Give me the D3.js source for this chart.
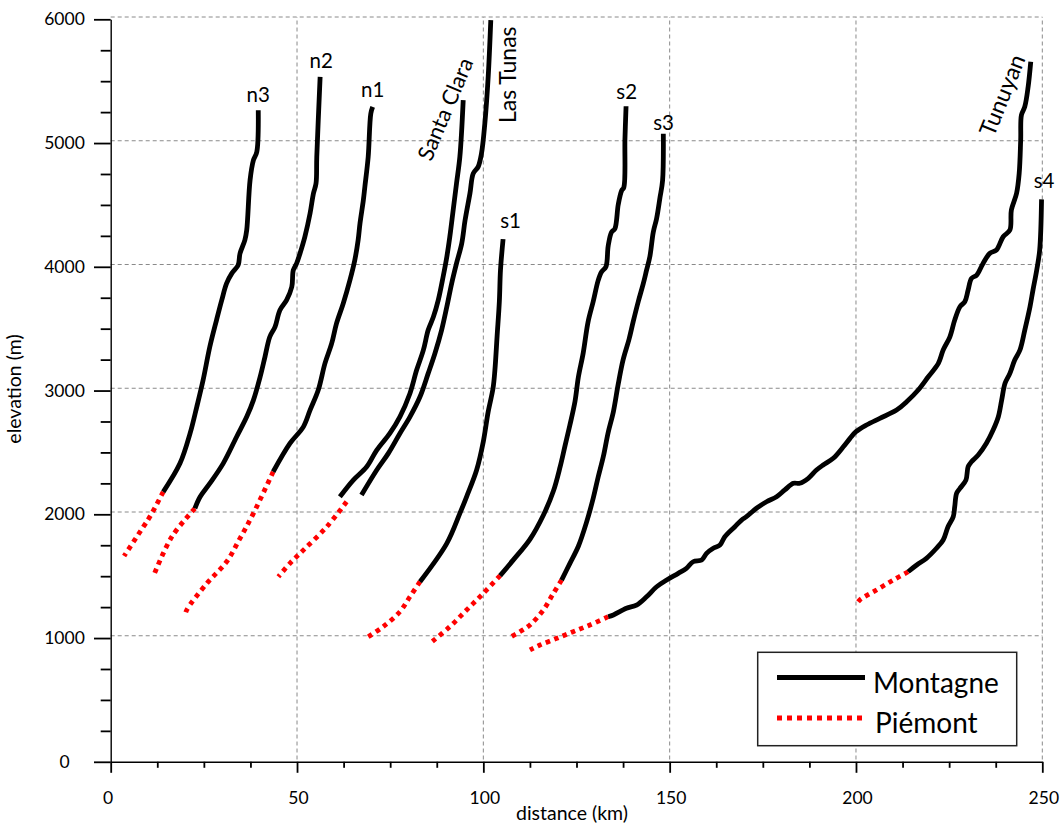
<!DOCTYPE html>
<html><head><meta charset="utf-8">
<script src="https://cdn.jsdelivr.net/npm/d3@7"></script>
<style>
body{margin:0;background:#fff}
text{font-family:Lato,"Open Sans",sans-serif;fill:#000}
</style>
</head><body>
<svg id="chart" width="1063" height="825"></svg>
<script>
// ---------------- DATA ----------------
const xTickValues = [0, 50, 100, 150, 200, 250];
const yTickValues = [0, 1000, 2000, 3000, 4000, 5000, 6000];
const xAxisTitle = "distance (km)";
const yAxisTitle = "elevation (m)";
const legendLabels = ["Montagne", "Piémont"];

// Montagne profiles: [distance km, elevation m]
const n3_montagne = [[39.6,5247],[39.2,4910],[38.3,4843],[37.4,4682],[36.5,4278],[36.0,4197],[34.7,4089],[34.2,3995],[32.5,3928],[31.1,3847],[29.8,3712],[28.4,3551],[26.6,3335],[24.8,3066],[23.1,2850],[21.3,2635],[18.6,2393],[14.1,2163]];
const n2_montagne = [[56.2,5516],[55.3,4870],[55.1,4655],[54.4,4574],[53.5,4413],[52.1,4223],[50.8,4089],[49.9,4009],[49.0,3954],[48.6,3820],[47.2,3712],[45.4,3631],[44.1,3496],[42.7,3416],[41.4,3254],[40.1,3092],[38.3,2904],[36.5,2769],[33.8,2608],[30.2,2393],[26.6,2231],[24.0,2123],[22.6,2029]];
const n1_montagne = [[70.3,5274],[69.8,5220],[69.1,4870],[68.2,4627],[67.8,4520],[66.9,4332],[66.4,4197],[65.5,4035],[64.2,3874],[62.4,3685],[60.6,3524],[59.3,3362],[57.5,3201],[55.7,2985],[53.5,2823],[51.7,2688],[48.1,2554],[43.6,2325]];
const santaClara_montagne = [[94.6,5328],[93.7,4870],[92.8,4655],[91.9,4439],[91.0,4223],[90.2,4062],[89.2,3900],[87.9,3712],[86.6,3577],[85.2,3470],[83.9,3308],[82.1,3147],[80.3,2958],[77.6,2769],[74.9,2635],[71.4,2500],[68.7,2365],[65.1,2258],[61.5,2123]];
const lasTunas_montagne = [[102.0,5975],[101.3,5516],[100.4,5140],[99.5,4897],[98.6,4789],[97.3,4736],[96.4,4574],[95.1,4358],[94.2,4170],[92.8,4009],[91.5,3847],[90.2,3658],[88.8,3470],[87.0,3281],[85.2,3120],[83.0,2931],[80.3,2769],[77.6,2635],[74.5,2474],[71.4,2339],[67.3,2137]];
const s1_montagne = [[105.3,4205],[104.6,3954],[104.3,3703],[103.7,3424],[103.1,3145],[102.6,3000],[101.3,2810],[100.0,2570],[98.2,2339],[95.5,2123],[93.7,1989],[90.2,1747],[83.0,1437]];
const s2_montagne = [[138.3,5279],[138.0,5014],[137.7,4623],[137.1,4596],[136.2,4484],[135.3,4289],[134.4,4261],[133.5,4149],[132.9,3982],[131.7,3940],[130.8,3870],[129.5,3703],[128.1,3536],[126.8,3285],[125.5,3090],[124.6,2894],[123.2,2699],[121.9,2532],[120.6,2364],[118.8,2169],[116.1,1974],[112.5,1779],[108.0,1611],[104.5,1486]];
const s3_montagne = [[148.3,5056],[148.1,4679],[147.4,4540],[146.5,4372],[145.6,4261],[144.7,4066],[143.8,3954],[142.9,3843],[141.6,3703],[140.2,3536],[139.1,3396],[137.5,3229],[136.2,3034],[134.9,2811],[133.5,2643],[132.2,2448],[130.8,2281],[129.5,2113],[127.7,1918],[125.5,1723],[123.2,1583],[121.0,1450]];
const tunuyan_montagne = [[246.9,5638],[246.2,5436],[245.3,5275],[244.4,5208],[244.2,5006],[243.8,4737],[243.1,4575],[241.7,4440],[241.3,4278],[239.5,4224],[237.7,4117],[235.9,4090],[234.1,4009],[232.4,3915],[231.0,3888],[230.1,3794],[229.2,3699],[227.9,3659],[226.5,3551],[225.2,3416],[223.4,3309],[222.1,3201],[219.4,3093],[216.7,2986],[213.6,2891],[210.9,2824],[206.4,2757],[202.8,2703],[200.0,2649],[198.4,2595],[196.6,2527],[193.9,2434],[191.2,2380],[189.4,2339],[187.2,2272],[184.9,2232],[183.2,2232],[180.9,2178],[178.7,2123],[176.0,2083],[173.3,2030],[170.6,1962],[169.3,1935],[167.5,1881],[164.8,1800],[163.5,1733],[161.7,1707],[159.9,1666],[158.6,1612],[156.3,1598],[154.5,1545],[152.3,1504],[149.2,1450],[146.5,1396],[143.8,1315],[141.1,1248],[138.4,1222],[134.9,1168],[133.5,1154]];
const s4_montagne = [[249.8,4526],[249.3,4117],[248.5,3955],[247.5,3794],[246.7,3659],[245.3,3470],[244.0,3309],[242.6,3228],[241.3,3120],[240.0,3040],[239.1,2905],[238.2,2770],[236.8,2662],[235.0,2555],[232.8,2460],[231.0,2406],[230.1,2366],[229.5,2258],[227.9,2191],[227.0,2151],[226.5,2043],[226.1,1962],[224.7,1881],[223.4,1774],[221.6,1707],[218.9,1626],[216.3,1572],[214.0,1517]];

// Piémont profiles
const n3_piemont = [[14.1,2163],[10.5,1961],[8.7,1878],[3.6,1644]];
const n2_piemont = [[22.6,2029],[16.4,1800],[11.4,1477]];
const n1_piemont = [[43.6,2325],[38.3,1989],[34.7,1787],[31.1,1598],[25.8,1423],[20.4,1208],[19.9,1159]];
const santaClara_piemont = [[63.3,2083],[58.0,1881],[51.7,1692],[48.1,1585],[45.0,1477]];
const s1_piemont = [[83.0,1437],[80.3,1315],[77.6,1194],[73.1,1073],[69.1,992]];
const s2_piemont = [[104.5,1486],[100.0,1343],[95.5,1208],[91.0,1073],[85.7,939]];
const s3_piemont = [[121.0,1450],[118.8,1343],[116.1,1208],[112.5,1087],[109.8,1033],[106.7,979]];
const tunuyan_piemont = [[133.5,1154],[128.6,1087],[124.1,1033],[119.7,979],[115.2,925],[112.5,885]];
const s4_piemont = [[214.0,1517],[210.0,1450],[205.5,1370],[201.0,1289],[200.0,1248]];

const montagneSeries = [n3_montagne, n2_montagne, n1_montagne, santaClara_montagne, lasTunas_montagne, s1_montagne, s2_montagne, s3_montagne, tunuyan_montagne, s4_montagne];
const piemontSeries = [n3_piemont, n2_piemont, n1_piemont, santaClara_piemont, s1_piemont, s2_piemont, s3_piemont, tunuyan_piemont, s4_piemont];
const profileNames = ["n3", "n2", "n1", "Santa Clara", "Las Tunas", "s1", "s2", "s3", "Tunuyan", "s4"];

// ---------------- DRAW ----------------
const svg = d3.select("#chart");
const x = d3.scaleLinear().domain([0, 250]).range([110.7, 1042.3]);
const y = d3.scaleLinear().domain([0, 6000]).range([759.5, 17]);
const axisShift = 2.3;

// grid
const grid = svg.append("g").attr("stroke", "#8a8a8a").attr("stroke-width", 1).attr("stroke-dasharray", "4,3");
grid.selectAll(".gv").data(xTickValues.filter(d => d > 0)).join("line")
  .attr("x1", d => x(d)).attr("x2", d => x(d)).attr("y1", y(0)).attr("y2", y(6000));
grid.selectAll(".gh").data(yTickValues.filter(d => d > 0)).join("line")
  .attr("x1", x(0)).attr("x2", x(250)).attr("y1", d => y(d)).attr("y2", d => y(d));

// axes
const xMinor = d3.range(0, 250.01, 12.5).filter(d => d % 50 !== 0);
const yMinor = d3.range(0, 6000.01, 250).filter(d => d % 1000 !== 0);

const gx = svg.append("g").attr("transform", `translate(0,${y(0) + axisShift})`);
gx.call(d3.axisBottom(x).tickValues(xTickValues).tickSize(11).tickSizeOuter(0).tickPadding(18.6).tickFormat(d3.format("d")));
gx.append("g").call(d3.axisBottom(x).tickValues(xMinor).tickSize(6).tickFormat("")).select(".domain").remove();

const gy = svg.append("g").attr("transform", `translate(${x(0)},${axisShift})`);
gy.call(d3.axisLeft(y).tickValues(yTickValues).tickSize(16.7).tickSizeOuter(0).tickFormat(d3.format("d")));
gy.append("g").call(d3.axisLeft(y).tickValues(yMinor).tickSize(10).tickFormat("")).select(".domain").remove();

svg.selectAll(".domain").attr("stroke", "#000").attr("stroke-width", 1.4);
svg.selectAll(".tick line").attr("stroke", "#000").attr("stroke-width", 1.8);
svg.selectAll(".tick text").attr("font-family", "Lato").attr("font-size", 17.5).attr("fill", "#000");
gy.selectAll(".tick text").attr("text-anchor", "middle").attr("x", 64.5 - 110.7);
gx.selectAll(".tick text").attr("dx", d => d === 0 ? -3 : 1);

// axis titles
svg.append("text").attr("transform", "translate(21,389) rotate(-90)").attr("text-anchor", "middle")
  .attr("font-size", 19.5).text(yAxisTitle);
svg.append("text").attr("x", 572).attr("y", 820).attr("text-anchor", "middle")
  .attr("font-size", 19.5).text(xAxisTitle);

// lines
const line = d3.line().x(d => x(d[0])).y(d => y(d[1])).curve(d3.curveCatmullRom.alpha(0.5));
svg.append("g").selectAll("path").data(piemontSeries).join("path")
  .attr("d", line).attr("fill", "none").attr("stroke", "#ff0000")
  .attr("stroke-width", 4.8).attr("stroke-dasharray", "4.5,4.5");
svg.append("g").selectAll("path").data(montagneSeries).join("path")
  .attr("d", line).attr("fill", "none").attr("stroke", "#000")
  .attr("stroke-width", 4.8).attr("stroke-linejoin", "round");

// profile labels (offset from each profile's top point)
const labelStyle = {
  "n3": {dx: 0, dy: -8.5, rot: 0, anchor: "middle", size: 20.5},
  "n2": {dx: 1, dy: -8.6, rot: 0, anchor: "middle", size: 20.5},
  "n1": {dx: 0, dy: -10, rot: 0, anchor: "middle", size: 20.5},
  "Santa Clara": {dx: -32, dy: 62, rot: -67, anchor: "start", size: 22},
  "Las Tunas": {dx: 25.5, dy: 103, rot: -90, anchor: "start", size: 23},
  "s1": {dx: 7.5, dy: -10.8, rot: 0, anchor: "middle", size: 20.5},
  "s2": {dx: 0.7, dy: -7, rot: 0, anchor: "middle", size: 20.5},
  "s3": {dx: 0.3, dy: -3.8, rot: 0, anchor: "middle", size: 20.5},
  "Tunuyan": {dx: -37, dy: 76, rot: -68, anchor: "start", size: 23},
  "s4": {dx: 2.5, dy: -11.7, rot: 0, anchor: "middle", size: 20.5}
};
montagneSeries.forEach((s, i) => {
  const name = profileNames[i];
  const st = labelStyle[name];
  const top = s[0];
  svg.append("text")
    .attr("transform", `translate(${x(top[0]) + st.dx},${y(top[1]) + st.dy}) rotate(${st.rot})`)
    .attr("text-anchor", st.anchor).attr("font-size", st.size).text(name);
});

// legend
const lg = svg.append("g");
lg.append("rect").attr("x", 757.7).attr("y", 652.3).attr("width", 259).attr("height", 93.4)
  .attr("fill", "#fff").attr("stroke", "#222").attr("stroke-width", 1.5);
lg.append("line").attr("x1", 777).attr("x2", 865).attr("y1", 677.5).attr("y2", 677.5)
  .attr("stroke", "#000").attr("stroke-width", 5);
lg.append("line").attr("x1", 777).attr("x2", 865).attr("y1", 718).attr("y2", 718)
  .attr("stroke", "#ff0000").attr("stroke-width", 5).attr("stroke-dasharray", "5,5");
lg.append("text").attr("x", 873).attr("y", 692.5).attr("font-size", 28).text(legendLabels[0]);
lg.append("text").attr("x", 875).attr("y", 733).attr("font-size", 28).text(legendLabels[1]);
</script>
</body></html>
